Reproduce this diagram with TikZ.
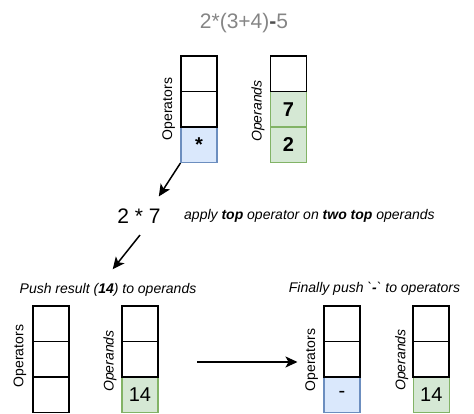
\documentclass[tikz,border=0pt]{standalone}
\usepackage{fontspec}
\setmainfont{Liberation Sans}
\usetikzlibrary{arrows.meta,calc}
\definecolor{bluef}{HTML}{DAE8FC}
\definecolor{blued}{HTML}{6C8EBF}
\definecolor{greenf}{HTML}{D5E8D4}
\definecolor{greend}{HTML}{82B366}
\definecolor{titlegray}{HTML}{858585}
\definecolor{titledark}{HTML}{505050}
\begin{document}
\begin{tikzpicture}[x=1pt,y=-1pt,
 cell/.style={draw=black,line width=1.8pt,minimum width=36pt,minimum height=35.5pt,inner sep=0pt,font=\fontsize{20}{22}\selectfont},
 opcell/.style={cell,fill=bluef,draw=blued,line width=1.1pt},
 numcell/.style={cell,fill=greenf,draw=greend,line width=1.1pt},
 lbl/.style={rotate=90,inner sep=0pt,font=\fontsize{14}{16}\selectfont},
 txt/.style={inner sep=0pt,font=\fontsize{14}{16}\selectfont\itshape},
 arr/.style={line width=1.5pt,-{Stealth[length=12pt,width=11pt,inset=3pt]}}]
\useasboundingbox (0,0) rectangle (474,414);

% title
\node[inner sep=0pt,font=\fontsize{21}{24}\selectfont,text=titlegray] (title) at (244,23) {2*(3+4)\textcolor{titledark}{\textbf{-}}5};

% top stacks
\node[opcell] (to3) at (199,144.75) {\textbf{*}};
\node[cell] (to1) at (199,73.75) {};
\node[cell] (to2) at (199,109.25) {};
\node[lbl] (tol) at (168.7,109) {Operators};

\node[numcell] (tn2) at (288.5,109.25) {\textbf{7}};
\node[numcell] (tn3) at (288.5,144.75) {\textbf{2}};
\node[cell] (tn1) at (288.5,73.75) {};
\node[lbl,font=\fontsize{14}{16}\selectfont\itshape] (tnl) at (258,111) {Operands};

% middle
\node[inner sep=0pt,font=\fontsize{21}{24}\selectfont] (eq) at (139,216) {2 * 7};
\node[txt,anchor=west] (apply) at (184,216) {apply \textbf{top} operator on \textbf{two top} operands};

% bottom texts
\node[txt] (push) at (108,290) {Push result (\textbf{14}) to operands};
\node[txt] (final) at (374.5,289) {Finally push \textasciigrave\textbf{-}\textasciigrave{} to operators};

% bottom left stacks
\node[cell] (lo1) at (51,323.8) {};
\node[cell] (lo2) at (51,359.3) {};
\node[cell] (lo3) at (51,394.8) {};
\node[lbl] (lol) at (20,356) {Operators};

\node[numcell] (ln3) at (140,394.8) {14};
\node[cell] (ln1) at (140,323.8) {};
\node[cell] (ln2) at (140,359.3) {};
\node[lbl,font=\fontsize{14}{16}\selectfont\itshape] (lnl) at (110,361) {Operands};

% bottom right stacks
\node[opcell] (ro3) at (342,394.8) {-};
\node[cell] (ro1) at (342,323.8) {};
\node[cell] (ro2) at (342,359.3) {};
\node[lbl] (rol) at (311.7,360) {Operators};

\node[numcell] (rn3) at (431.3,394.8) {14};
\node[cell] (rn1) at (431.3,323.8) {};
\node[cell] (rn2) at (431.3,359.3) {};
\node[lbl,font=\fontsize{14}{16}\selectfont\itshape] (rnl) at (401.7,360) {Operands};

% arrows
\draw[arr] (to3.south west) -- ($(eq.north east)+(-2,-12)$);
\draw[arr] ($(eq.south)+(1,11.5)$) -- ($(push.north)+(4.7,-14)$);
\coordinate (a3s) at (197,362);
\coordinate (a3e) at (297.5,362);
\draw[arr] (a3s) -- (a3e);
\end{tikzpicture}
\end{document}
